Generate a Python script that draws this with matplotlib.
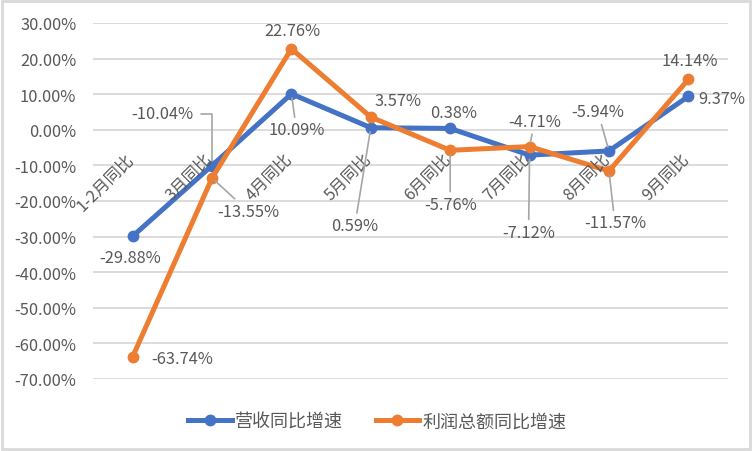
import numpy as np
import matplotlib
matplotlib.use('Agg')
from matplotlib import pyplot as plt
from matplotlib.patches import Rectangle
from matplotlib.ticker import FuncFormatter

'''Data'''
categories = ['1-2月同比', '3月同比', '4月同比', '5月同比', '6月同比', '7月同比', '8月同比', '9月同比']
revenue = [-29.88, -10.04, 10.09, 0.59, 0.38, -7.12, -5.94, 9.37]
profit = [-63.74, -13.55, 22.76, 3.57, -5.76, -4.71, -11.57, 14.14]
names = ['营收同比增速', '利润总额同比增速']

'''Label offsets in pixels (dx, dy) and whether a leader line is drawn'''
rev_offsets = [(-3, -21, None), (-50, 52, 'elbow'), (5, -36, 'line'), (-16, -98, 'line'),
               (3, 16, None), (-1, -77, 'line'), (-11, 39, 'line'), (33, -2, None)]
prof_offsets = [(49, -2, None), (36, -33, 'line'), (1, 18, None), (27, 17, None),
                (0, -54, 'line'), (5, 25, 'line'), (6, -52, 'line'), (1, 19, None)]

plt.rcParams['font.family'] = ['Noto Sans CJK SC', 'DejaVu Sans']
text_color = '#595959'
blue = '#4472C4'
orange = '#ED7D31'
leader = '#A6A6A6'
fs = 11.8

fig = plt.figure(figsize=(7.52, 4.52), dpi=100)
ax = fig.add_axes([93/752, 1-380/452, 635/752, 356/452])

x = np.arange(len(categories))
ax.plot(x, revenue, color=blue, lw=3.6, marker='o', ms=7.5, label=names[0], zorder=3)
ax.plot(x, profit, color=orange, lw=3.6, marker='o', ms=7.5, label=names[1], zorder=3)

ax.set_xlim(-0.5, len(categories) - 0.5)
ax.set_ylim(-70, 30)
ax.set_yticks(np.arange(-70, 31, 10))
ax.yaxis.set_major_formatter(FuncFormatter(lambda v, p: '%.2f%%' % v))
ax.tick_params(axis='y', length=0, pad=12, labelsize=fs, labelcolor=text_color)
ax.set_xticks([])
ax.grid(axis='y', color='#D9D9D9', lw=1.3)
ax.set_axisbelow(True)
for s in ax.spines.values():
    s.set_visible(False)

# category labels sit on the zero line
for i, c in enumerate(categories):
    ax.annotate(c, xy=(i, 0), xytext=(4, -20), textcoords='offset pixels',
                rotation=45, ha='right', va='top', fontsize=fs, color=text_color, zorder=4)

def add_labels(values, offsets):
    for i, (v, (dx, dy, kind)) in enumerate(zip(values, offsets)):
        props = None
        if kind == 'line':
            props = dict(arrowstyle='-', color=leader, lw=1.2, shrinkA=1, shrinkB=3)
        elif kind == 'elbow':
            props = dict(arrowstyle='-', color=leader, lw=1.2, shrinkA=4, shrinkB=3,
                         connectionstyle='angle,angleA=0,angleB=90,rad=0', relpos=(1, 0.5))
        ax.annotate('%.2f%%' % v, xy=(i, v), xytext=(dx, dy), textcoords='offset pixels',
                    ha='center', va='center', fontsize=fs, color=text_color,
                    arrowprops=props, zorder=5)

add_labels(revenue, rev_offsets)
add_labels(profit, prof_offsets)

leg = fig.legend(loc='center', bbox_to_anchor=(0.502, 0.066), ncol=2, frameon=False,
                 fontsize=13, handlelength=2.4, columnspacing=1.8, handletextpad=0.2)
for t in leg.get_texts():
    t.set_color(text_color)

fig.patches.append(Rectangle((0.003, 0.004), 0.994, 0.992, transform=fig.transFigure,
                             fill=False, edgecolor='#D9D9D9', lw=2))

fig.savefig('out.png', dpi=100)
